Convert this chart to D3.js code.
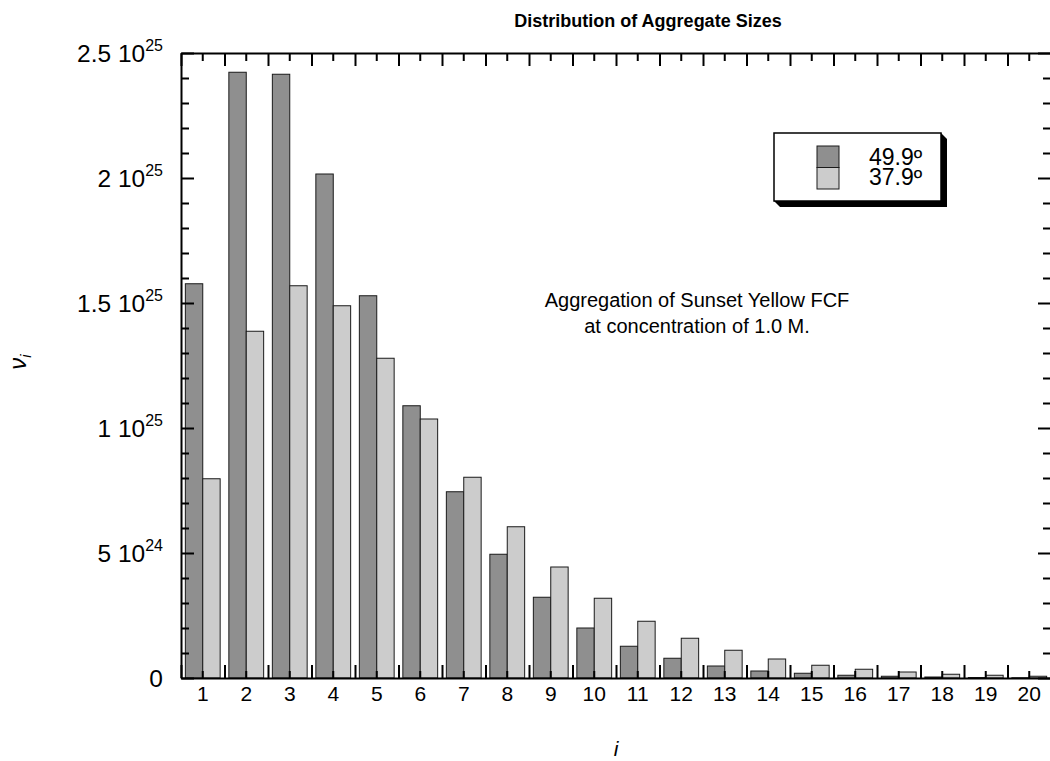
<!DOCTYPE html>
<html>
<head>
<meta charset="utf-8">
<script src="https://cdn.jsdelivr.net/npm/d3@7"></script>
<style>
  html, body { margin: 0; padding: 0; background: #fff; }
  svg { display: block; }
  text { font-family: "Liberation Sans", Arial, Helvetica, sans-serif; fill: #000; }
</style>
</head>
<body>
<svg id="chart" width="1050" height="761"></svg>
<script>
// ---- data ----
const categories = [1,2,3,4,5,6,7,8,9,10,11,12,13,14,15,16,17,18,19,20];
const series49 = [15.77e24, 24.23e24, 24.15e24, 20.16e24, 15.29e24, 10.89e24, 7.45e24, 4.95e24, 3.23e24, 2.00e24,
                  1.27e24, 0.79e24, 0.48e24, 0.28e24, 0.19e24, 0.11e24, 0.07e24, 0.04e24, 0.02e24, 0.01e24];
const series37 = [7.97e24, 13.87e24, 15.69e24, 14.89e24, 12.79e24, 10.36e24, 8.03e24, 6.05e24, 4.44e24, 3.19e24,
                  2.27e24, 1.59e24, 1.11e24, 0.76e24, 0.51e24, 0.35e24, 0.24e24, 0.15e24, 0.11e24, 0.07e24];
const seriesNames = ["49.9º", "37.9º"];
const yMajorTicks = [0, 5e24, 1e25, 1.5e25, 2e25, 2.5e25];
const yTickMantissa = ["0", "5", "1", "1.5", "2", "2.5"];
const yTickExponent = ["", "24", "25", "25", "25", "25"];
const titleText = "Distribution of Aggregate Sizes";
const noteLines = ["Aggregation of Sunset Yellow FCF", "at concentration of 1.0 M."];

// ---- layout ----
const pLeft = 181, pRight = 1051, pTop = 53, pBottom = 678;
const svg = d3.select("#chart");

const x = d3.scaleBand().domain(categories).range([pLeft, pRight]).paddingInner(0.2).paddingOuter(0.1);
const xSub = d3.scaleBand().domain([0, 1]).range([0, x.bandwidth()]);
const xLin = d3.scaleLinear().domain([0.5, 20.5]).range([pLeft, pRight]);
const y = d3.scaleLinear().domain([0, 2.5e25]).range([pBottom, pTop]);

const colors = ["#8f8f8f", "#cccccc"];
const rows = categories.map((c, i) => ({c, v: [series49[i], series37[i]]}));

// bars
const g = svg.append("g");
rows.forEach(r => {
  r.v.forEach((v, k) => {
    g.append("rect")
      .attr("x", x(r.c) + xSub(k))
      .attr("y", y(v))
      .attr("width", xSub.bandwidth())
      .attr("height", pBottom - y(v))
      .attr("fill", colors[k])
      .attr("stroke", "#1a1a1a")
      .attr("stroke-width", 1);
  });
});

// ---- axes ----
const boundaries = d3.range(0.5, 20.6, 1);
const yMinor = d3.range(0, 2.5e25 + 1, 1e24).filter(v => !yMajorTicks.some(m => Math.abs(m - v) < 1e20));

function styleAxis(sel) {
  sel.selectAll("path.domain").attr("stroke", "#000").attr("stroke-width", 2);
  sel.selectAll(".tick line").attr("stroke", "#000").attr("stroke-width", 2);
}

// bottom: minor at centers with labels
const bottomLab = svg.append("g").attr("transform", `translate(0,${pBottom})`)
  .call(d3.axisBottom(x).tickSizeInner(-7).tickSizeOuter(0).tickPadding(8));
bottomLab.selectAll("path.domain").remove();
bottomLab.attr("font-size", 21).attr("font-family", null);
styleAxis(bottomLab);
// bottom: major at boundaries
const bottomMaj = svg.append("g").attr("transform", `translate(0,${pBottom})`)
  .call(d3.axisBottom(xLin).tickValues(boundaries).tickSizeInner(-13).tickSizeOuter(0).tickFormat(""));
styleAxis(bottomMaj);

// top
const topMin = svg.append("g").attr("transform", `translate(0,${pTop})`)
  .call(d3.axisTop(x).tickSizeInner(-8).tickSizeOuter(0).tickFormat(""));
topMin.selectAll("path.domain").remove();
styleAxis(topMin);
const topMaj = svg.append("g").attr("transform", `translate(0,${pTop})`)
  .call(d3.axisTop(xLin).tickValues(boundaries).tickSizeInner(-13).tickSizeOuter(0).tickFormat(""));
styleAxis(topMaj);

// left
const leftMin = svg.append("g").attr("transform", `translate(${pLeft},0)`)
  .call(d3.axisLeft(y).tickValues(yMinor).tickSizeInner(-8).tickSizeOuter(0).tickFormat(""));
leftMin.selectAll("path.domain").remove();
styleAxis(leftMin);
const leftMaj = svg.append("g").attr("transform", `translate(${pLeft},0)`)
  .call(d3.axisLeft(y).tickValues(yMajorTicks).tickSizeInner(-13).tickSizeOuter(0).tickPadding(18)
    .tickFormat(() => ""));
styleAxis(leftMaj);
leftMaj.attr("font-size", 24.5).attr("font-family", null);
leftMaj.selectAll(".tick text").each(function(d, i) {
  const t = d3.select(this).attr("dy", "0.36em");
  t.append("tspan").text(yTickMantissa[i] + (yTickExponent[i] ? " 10" : ""));
  if (yTickExponent[i]) {
    t.append("tspan").attr("font-size", 16).attr("dy", "-0.7em").text(yTickExponent[i]);
  }
});

// right
const rightMin = svg.append("g").attr("transform", `translate(${pRight},0)`)
  .call(d3.axisRight(y).tickValues(yMinor).tickSizeInner(-8).tickSizeOuter(0).tickFormat(""));
rightMin.selectAll("path.domain").remove();
styleAxis(rightMin);
const rightMaj = svg.append("g").attr("transform", `translate(${pRight},0)`)
  .call(d3.axisRight(y).tickValues(yMajorTicks).tickSizeInner(-13).tickSizeOuter(0).tickFormat(""));
styleAxis(rightMaj);

// ---- titles ----
svg.append("text").attr("x", 648).attr("y", 27).attr("text-anchor", "middle")
  .attr("font-size", 18).attr("font-weight", "bold").text(titleText);

svg.append("text").attr("x", 616).attr("y", 756).attr("text-anchor", "middle")
  .attr("font-size", 21).attr("font-style", "italic").text("i");

const yt = svg.append("text").attr("transform", "translate(26,362) rotate(-90)")
  .attr("text-anchor", "middle").attr("font-size", 24).attr("font-style", "italic");
yt.append("tspan").text("ν");
yt.append("tspan").attr("font-size", 15).attr("dy", "0.35em").text("i");

// annotation
noteLines.forEach((s, i) => {
  svg.append("text").attr("x", 697).attr("y", 307 + i * 26).attr("text-anchor", "middle")
    .attr("font-size", 20).text(s);
});

// ---- legend ----
const lg = svg.append("g");
const lx = 774, ly = 133, lw = 167, lh = 68, sh = 6;
lg.append("path")
  .attr("d", `M${lx + lw},${ly} L${lx + lw + sh},${ly + sh} L${lx + lw + sh},${ly + lh + sh} L${lx + sh},${ly + lh + sh} L${lx},${ly + lh} Z`)
  .attr("fill", "#000");
lg.append("rect").attr("x", lx).attr("y", ly).attr("width", lw).attr("height", lh)
  .attr("fill", "#fff").attr("stroke", "#000").attr("stroke-width", 1.5);
seriesNames.forEach((n, k) => {
  lg.append("rect").attr("x", 817).attr("y", 146 + k * 21.5).attr("width", 22).attr("height", 21.5)
    .attr("fill", colors[k]).attr("stroke", "#1a1a1a").attr("stroke-width", 1);
  lg.append("text").attr("x", 869).attr("y", 165 + k * 19.5).attr("font-size", 23).text(n);
});
</script>
</body>
</html>
